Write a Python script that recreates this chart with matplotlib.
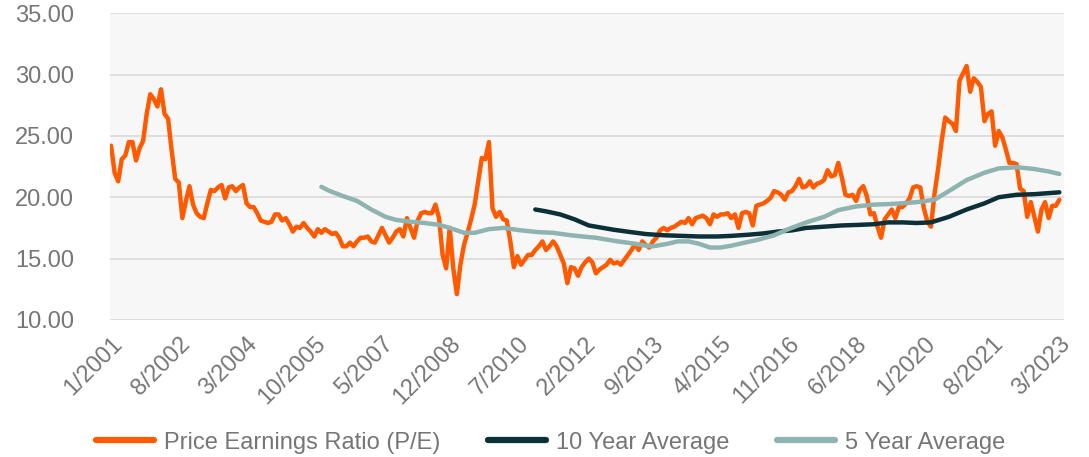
import matplotlib
matplotlib.use('Agg')
import matplotlib.pyplot as plt
import numpy as np

plt.rcParams['font.family'] = ['Liberation Sans', 'DejaVu Sans']

# monthly P/E, 1/2001 .. 3/2023 (one row per year)
pe = [
    24.2, 22.0, 21.3, 23.1, 23.4, 24.5, 24.5, 23.0, 24.0, 24.6, 26.8, 28.4,
    28.0, 27.4, 28.8, 26.8, 26.4, 23.8, 21.5, 21.2, 18.3, 19.7, 20.9, 19.4,
    18.7, 18.4, 18.3, 19.5, 20.6, 20.5, 20.8, 21.0, 19.9, 20.8, 20.9, 20.5,
    20.8, 21.0, 19.5, 19.2, 19.2, 18.7, 18.1, 18.0, 17.9, 18.0, 18.6, 18.6,
    18.1, 18.3, 17.8, 17.2, 17.6, 17.5, 17.9, 17.5, 17.2, 16.8, 17.4, 17.1,
    17.4, 17.2, 17.0, 17.1, 16.7, 16.0, 16.0, 16.3, 16.0, 16.4, 16.7, 16.7,
    16.8, 16.4, 16.3, 16.9, 17.5, 16.9, 16.3, 16.7, 17.2, 17.4, 16.8, 18.3,
    17.5, 16.7, 18.1, 18.7, 18.8, 18.7, 18.7, 19.4, 18.3, 15.3, 14.2, 17.5,
    14.2, 12.1, 14.5, 16.1, 17.1, 18.2, 19.4, 21.3, 23.2, 23.1, 24.5, 19.1,
    18.4, 18.8, 18.2, 18.1, 16.4, 14.3, 15.2, 14.5, 14.9, 15.3, 15.3, 15.7,
    16.0, 16.4, 15.7, 16.0, 16.4, 16.0, 15.3, 14.6, 13.0, 14.3, 14.2, 13.6,
    14.3, 14.7, 15.0, 14.7, 13.8, 14.1, 14.3, 14.5, 14.9, 14.6, 14.7, 14.5,
    14.9, 15.3, 15.7, 16.2, 15.7, 16.4, 16.1, 15.9, 16.4, 16.7, 17.3, 17.5,
    17.3, 17.5, 17.6, 17.8, 18.0, 17.9, 18.3, 17.8, 18.3, 18.4, 18.5, 18.3,
    17.8, 18.6, 18.4, 18.6, 18.6, 18.7, 18.3, 18.6, 17.5, 18.7, 18.8, 18.7,
    17.7, 19.3, 19.4, 19.5, 19.7, 19.95, 20.5, 20.4, 20.2, 19.8, 20.4, 20.5,
    20.9, 21.5, 20.8, 20.9, 21.3, 20.8, 21.1, 21.2, 21.4, 22.2, 21.7, 21.8,
    22.8, 21.6, 20.2, 20.1, 20.2, 19.7, 20.6, 20.9, 20.1, 18.6, 18.7, 17.6,
    16.7, 18.2, 18.6, 19.0, 18.3, 19.2, 19.2, 19.5, 19.9, 20.8, 20.9, 20.8,
    19.1, 18.0, 17.6, 20.3, 22.3, 24.6, 26.5, 26.2, 26.0, 25.4, 29.5, 30.1,
    30.7, 28.6, 29.7, 29.4, 29.0, 26.2, 26.8, 27.0, 24.2, 25.4, 24.9, 23.9,
    22.8, 22.8, 22.7, 20.7, 20.5, 18.4, 19.6, 18.4, 17.2, 19.0, 19.6, 18.3,
    19.3, 19.3, 19.8,
]

# averages, read at month index (0 = 1/2001)
avg10_month = [119, 122, 126, 130, 134, 137, 141, 146, 150, 155, 160, 165, 170,
               174, 179, 183, 187, 191, 195, 200, 205, 210, 214, 218, 222, 226,
               230, 235, 240, 245, 249, 254, 259, 266]
avg10 = [19.0, 18.85, 18.6, 18.2, 17.7, 17.55, 17.35, 17.15, 17.0, 16.9, 16.85,
         16.8, 16.8, 16.85, 16.95, 17.05, 17.2, 17.3, 17.5, 17.6, 17.7, 17.75,
         17.8, 17.95, 17.95, 17.9, 17.95, 18.4, 19.0, 19.5, 20.0, 20.2, 20.25,
         20.4]

avg5_month = [59, 61, 65, 69, 73, 77, 80, 84, 88, 92, 95, 99, 102, 106, 110, 115,
              120, 124, 129, 134, 136, 141, 146, 150, 152, 156, 159, 162, 165,
              168, 171, 174, 177, 181, 186, 190, 195, 200, 204, 209, 214, 219,
              224, 226, 231, 235, 240, 245, 249, 254, 259, 263, 266]
avg5 = [20.85, 20.55, 20.1, 19.7, 19.0, 18.4, 18.15, 18.0, 17.9, 17.75, 17.5,
        17.1, 17.1, 17.4, 17.5, 17.3, 17.15, 17.1, 16.9, 16.75, 16.7, 16.45,
        16.25, 16.05, 16.0, 16.2, 16.4, 16.4, 16.2, 15.9, 15.9, 16.05, 16.25,
        16.5, 16.9, 17.4, 17.95, 18.4, 18.95, 19.25, 19.4, 19.45, 19.55, 19.6,
        19.8, 20.5, 21.4, 22.0, 22.35, 22.45, 22.3, 22.1, 21.9]

tick_labels = ['1/2001', '8/2002', '3/2004', '10/2005', '5/2007', '12/2008',
               '7/2010', '2/2012', '9/2013', '4/2015', '11/2016', '6/2018',
               '1/2020', '8/2021', '3/2023']

c_pe = '#ff5a00'
c_10 = '#0b3038'
c_5 = '#8fb3b0'
c_txt = '#767676'

fig = plt.figure(figsize=(10.89, 4.57), dpi=100)
ax = fig.add_axes([0.101, 0.30, 0.876, 0.671])
ax.set_facecolor('#f7f7f7')

ax.plot(np.arange(len(pe)), pe, color=c_pe, lw=3.2, label='Price Earnings Ratio (P/E)',
        solid_joinstyle='round', solid_capstyle='round')
ax.plot(avg10_month, avg10, color=c_10, lw=3.2, label='10 Year Average',
        solid_capstyle='round')
ax.plot(avg5_month, avg5, color=c_5, lw=3.2, label='5 Year Average',
        solid_capstyle='round')

ax.set_xlim(-0.3, 267.3)
ax.set_ylim(10, 35)
ax.set_yticks(np.arange(10, 36, 5))
ax.set_yticklabels([f'{v:.2f}' for v in np.arange(10, 36, 5)])
ax.set_xticks(np.arange(0, 267, 19))
ax.set_xticklabels(tick_labels, rotation=45, ha='right', rotation_mode='anchor')

ax.grid(axis='y', color='#d9d9d9', lw=1.2)
ax.set_axisbelow(True)
for s in ax.spines.values():
    s.set_visible(False)
ax.tick_params(axis='both', length=0, labelsize=17, labelcolor=c_txt)
ax.tick_params(axis='y', pad=26)
ax.tick_params(axis='x', pad=9)

leg = ax.legend(loc='center', bbox_to_anchor=(0.462, -0.40), ncol=3, frameon=False,
                fontsize=17, handlelength=2.45, handletextpad=0.45, columnspacing=2.0)
for t in leg.get_texts():
    t.set_color(c_txt)
for h in leg.get_lines():
    h.set_linewidth(4.5)

fig.savefig('out.png', dpi=100, facecolor='white')
